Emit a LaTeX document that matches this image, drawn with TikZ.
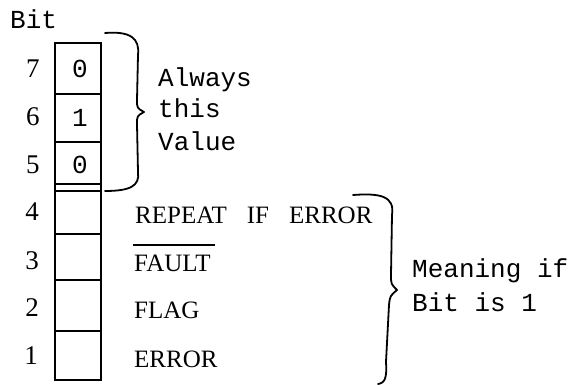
\documentclass[tikz,border=0pt]{standalone}
\usepackage{fontspec}
\setmainfont{Liberation Serif}
\setmonofont{Liberation Mono}
\begin{document}
\begin{tikzpicture}[x=1pt,y=-1pt,
  serif/.style={inner sep=0pt, font=\fontsize{25}{30}\selectfont\rmfamily},
  digit/.style={inner sep=0pt, font=\fontsize{27}{30}\selectfont\rmfamily},
  mono/.style={inner sep=0pt, font=\fontsize{26}{30}\selectfont\ttfamily},
  box/.style={line width=1.8pt},
  brace/.style={line width=1.8pt, line cap=round, line join=round}]
\useasboundingbox (0,0) rectangle (574,385);
% register box
\draw[box] (55,43) rectangle (101,380);
\foreach \yy in {94,142,184,191,234,280,331}
  \draw[box] (55,\yy) -- (101,\yy);
% header
\node[mono, anchor=base west] (bit) at (10,29) {Bit};
% bit numbers
\node[digit, anchor=base] (n7) at (33,78) {7};
\node[digit, anchor=base] (n6) at (33,126) {6};
\node[digit, anchor=base] (n5) at (33,174) {5};
\node[digit, anchor=base] (n4) at (32,221) {4};
\node[digit, anchor=base] (n3) at (32,270) {3};
\node[digit, anchor=base] (n2) at (32,317) {2};
\node[digit, anchor=base] (n1) at (31,364) {1};
% fixed values
\node[mono, anchor=base] (v7) at (80,78) {0};
\node[mono, anchor=base] (v6) at (80,127) {1};
\node[mono, anchor=base] (v5) at (80,174) {0};
% meanings
\node[serif, anchor=base west] (m4) at (135,224) {REPEAT\hspace{20pt}IF\hspace{20pt}ERROR};
\node[serif, anchor=base west] (m3) at (134,272) {FAULT};
\draw[line width=1.4pt] (133,245) -- (215,245);
\node[serif, anchor=base west] (m2) at (134,319) {FLAG};
\node[serif, anchor=base west] (m1) at (134,368) {ERROR};
% upper brace
\draw[brace] (105,33) .. controls (130,31) and (140,38) .. (138,55)
  -- (137,100) .. controls (137,108) .. (144,112)
  .. controls (137,116) .. (137,124)
  -- (138,172) .. controls (140,186) and (130,191) .. (105,191);
\node[mono, anchor=base west] (a1) at (158,87) {Always};
\node[mono, anchor=base west] (a2) at (158,118) {this};
\node[mono, anchor=base west] (a3) at (158,151) {Value};
% lower brace
\draw[brace] (353,195) .. controls (380,193) and (395,196) .. (392,215)
  -- (391,275) .. controls (391,284) .. (397,290)
  .. controls (390,296) .. (389,305)
  -- (386,362) .. controls (387,378) and (385,383) .. (378,384);
\node[mono, anchor=base west] (b1) at (412,278) {Meaning if};
\node[mono, anchor=base west] (b2) at (412,312) {Bit is 1};
\end{tikzpicture}
\end{document}
